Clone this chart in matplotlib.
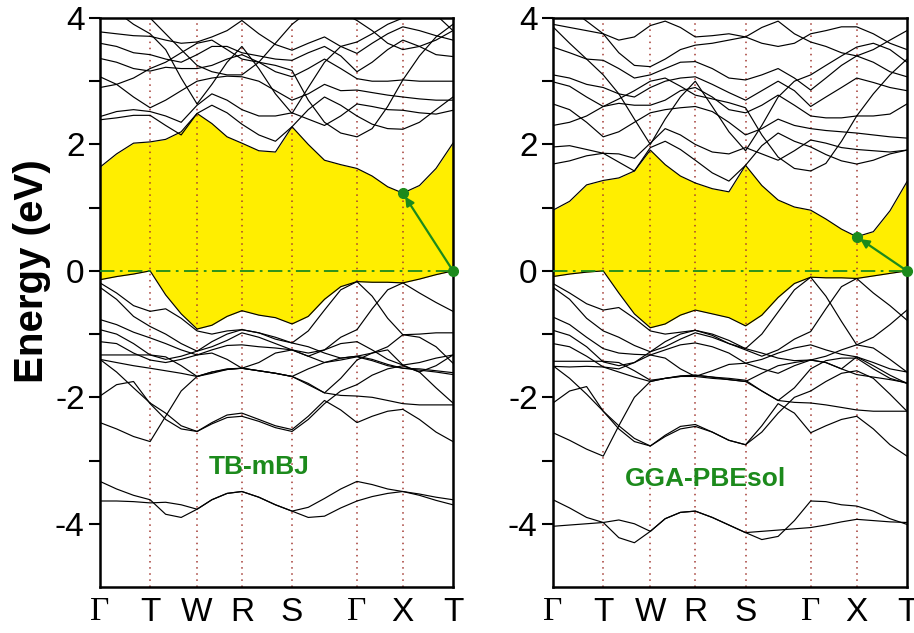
import matplotlib
matplotlib.use("Agg")
import matplotlib.pyplot as plt

# k-path (fraction of path length) and high-symmetry labels
k_path = [0.000, 0.047, 0.095, 0.142, 0.186, 0.230, 0.275, 0.317, 0.360, 0.402, 0.450, 0.497,
          0.544, 0.590, 0.636, 0.682, 0.728, 0.771, 0.815, 0.858, 0.905, 0.952, 1.000]
hs_pos = [0.000, 0.142, 0.275, 0.402, 0.544, 0.728, 0.858, 1.000]
hs_labels = ["Γ", "T", "W", "R", "S", "Γ", "X", "T"]

# TB-mBJ bands (eV)
mbj_cond = [
    [1.64, 1.85, 2.02, 2.04, 2.08, 2.20, 2.49, 2.33, 2.12, 2.02, 1.90, 1.88, 2.28, 2.00, 1.75, 1.68, 1.62, 1.50, 1.33, 1.23, 1.35, 1.62, 2.02],
    [2.39, 2.42, 2.46, 2.46, 2.30, 2.15, 2.49, 2.62, 2.50, 2.32, 2.15, 2.05, 2.28, 2.55, 2.75, 2.62, 2.45, 2.32, 2.25, 2.24, 2.35, 2.55, 2.75],
    [2.44, 2.52, 2.55, 2.52, 2.45, 2.35, 2.62, 2.80, 2.70, 2.55, 2.45, 2.45, 2.50, 2.40, 2.30, 2.45, 2.64, 2.60, 2.55, 2.54, 2.50, 2.48, 2.54],
    [3.07, 2.95, 2.75, 2.58, 2.70, 2.85, 3.00, 3.05, 3.08, 3.07, 3.00, 2.85, 2.70, 2.80, 2.95, 2.85, 2.86, 2.82, 2.78, 2.75, 2.72, 2.70, 2.70],
    [3.36, 3.30, 3.20, 3.16, 3.22, 3.20, 3.20, 3.25, 3.35, 3.42, 3.30, 3.15, 3.07, 3.20, 3.35, 3.20, 3.04, 3.00, 3.00, 3.02, 3.00, 3.00, 3.00],
    [3.60, 3.55, 3.45, 3.42, 3.35, 3.30, 3.42, 3.55, 3.55, 3.45, 3.40, 3.35, 3.33, 3.45, 3.55, 3.40, 3.15, 3.30, 3.50, 3.65, 3.55, 3.42, 3.39],
    [3.78, 3.75, 3.72, 3.71, 3.65, 3.60, 3.62, 3.70, 3.80, 3.96, 3.75, 3.58, 3.49, 3.60, 3.70, 3.55, 3.44, 3.60, 3.75, 3.86, 3.80, 3.72, 3.65],
    [4.30, 4.10, 3.90, 3.75, 3.50, 3.05, 2.64, 2.95, 3.30, 3.55, 3.20, 2.80, 2.49, 2.90, 3.30, 3.55, 3.62, 3.75, 3.90, 4.00, 4.10, 4.05, 3.80],
    [4.50, 4.40, 4.20, 4.00, 3.75, 3.50, 3.25, 3.15, 3.10, 3.10, 3.30, 3.60, 3.90, 4.10, 4.30, 4.10, 3.96, 3.80, 3.60, 3.50, 3.55, 3.65, 3.80],
    [2.90, 2.95, 3.05, 3.20, 3.30, 3.45, 3.60, 3.65, 3.50, 3.35, 3.30, 3.25, 3.17, 2.70, 2.35, 2.18, 2.12, 2.25, 2.60, 3.02, 3.40, 3.70, 3.90],
]
mbj_val = [
    [-0.14, -0.09, -0.05, 0.00, -0.38, -0.68, -0.92, -0.86, -0.72, -0.63, -0.70, -0.74, -0.84, -0.72, -0.45, -0.25, -0.17, -0.18, -0.18, -0.19, -0.13, -0.06, 0.00],
    [-0.19, -0.35, -0.55, -0.64, -0.60, -0.75, -0.95, -1.00, -0.95, -0.93, -0.98, -1.05, -1.14, -0.95, -0.62, -0.30, -0.17, -0.40, -0.75, -1.01, -1.00, -0.98, -0.98],
    [-0.26, -0.45, -0.72, -0.88, -1.00, -1.15, -1.27, -1.20, -1.10, -0.98, -1.05, -1.15, -1.25, -1.35, -1.25, -1.05, -0.93, -0.60, -0.30, -0.19, -0.35, -0.50, -0.64],
    [-0.77, -0.85, -0.97, -1.06, -1.15, -1.25, -1.33, -1.25, -1.18, -1.17, -1.20, -1.22, -1.25, -1.30, -1.25, -1.15, -1.12, -1.25, -1.40, -1.49, -1.45, -1.38, -1.33],
    [-0.93, -1.00, -1.15, -1.33, -1.40, -1.35, -1.27, -1.12, -1.00, -0.93, -0.98, -1.08, -1.14, -1.20, -1.30, -1.38, -1.35, -1.30, -1.20, -1.01, -1.05, -1.20, -1.46],
    [-1.12, -1.15, -1.30, -1.41, -1.45, -1.40, -1.33, -1.30, -1.40, -1.54, -1.45, -1.30, -1.25, -1.35, -1.45, -1.41, -1.36, -1.42, -1.50, -1.54, -1.55, -1.58, -1.61],
    [-1.33, -1.33, -1.33, -1.33, -1.36, -1.50, -1.67, -1.60, -1.55, -1.54, -1.58, -1.62, -1.67, -1.80, -1.93, -1.70, -1.41, -1.30, -1.25, -1.49, -1.60, -1.50, -1.33],
    [-1.40, -1.45, -1.50, -1.54, -1.58, -1.62, -1.67, -1.62, -1.56, -1.54, -1.58, -1.62, -1.67, -1.55, -1.45, -1.38, -1.35, -1.40, -1.48, -1.54, -1.57, -1.60, -1.64],
    [-1.98, -1.80, -1.75, -2.10, -2.35, -2.50, -2.54, -2.40, -2.28, -2.25, -2.35, -2.45, -2.51, -2.30, -2.05, -2.20, -2.40, -2.30, -2.22, -2.19, -2.35, -2.55, -2.70],
    [-2.40, -2.50, -2.62, -2.70, -2.30, -1.90, -1.67, -1.60, -1.56, -1.54, -1.58, -1.62, -1.67, -1.78, -1.93, -1.97, -1.98, -2.00, -2.05, -2.10, -2.12, -2.12, -2.12],
    [-1.40, -1.60, -1.85, -2.09, -2.25, -2.45, -2.54, -2.42, -2.32, -2.30, -2.38, -2.48, -2.54, -2.35, -2.10, -1.90, -1.80, -1.65, -1.55, -1.50, -1.60, -1.85, -2.09],
    [-3.33, -3.45, -3.55, -3.62, -3.85, -3.90, -3.77, -3.62, -3.52, -3.49, -3.58, -3.70, -3.80, -3.90, -3.88, -3.75, -3.64, -3.57, -3.52, -3.49, -3.55, -3.63, -3.70],
    [-3.64, -3.64, -3.65, -3.67, -3.66, -3.70, -3.77, -3.62, -3.52, -3.49, -3.58, -3.70, -3.80, -3.74, -3.60, -3.45, -3.33, -3.38, -3.45, -3.49, -3.53, -3.58, -3.62],
]

# GGA-PBEsol bands (eV)
sol_cond = [
    [0.96, 1.10, 1.36, 1.43, 1.47, 1.58, 1.91, 1.68, 1.50, 1.39, 1.30, 1.25, 1.67, 1.35, 1.12, 1.01, 0.96, 0.82, 0.66, 0.54, 0.62, 0.95, 1.41],
    [1.69, 1.74, 1.82, 1.86, 1.72, 1.58, 1.95, 2.05, 1.92, 1.75, 1.55, 1.42, 1.67, 1.98, 2.18, 2.05, 1.96, 1.84, 1.74, 1.69, 1.75, 1.85, 1.91],
    [1.96, 1.98, 1.92, 1.86, 1.85, 1.78, 2.02, 2.25, 2.15, 2.00, 1.88, 1.85, 1.95, 1.85, 1.75, 1.90, 2.07, 2.02, 1.95, 1.92, 1.90, 1.88, 1.91],
    [2.64, 2.55, 2.35, 2.12, 2.20, 2.35, 2.50, 2.55, 2.58, 2.60, 2.52, 2.35, 2.15, 2.25, 2.40, 2.30, 2.25, 2.22, 2.20, 2.18, 2.15, 2.12, 2.10],
    [2.99, 2.92, 2.75, 2.60, 2.65, 2.62, 2.62, 2.70, 2.85, 2.90, 2.75, 2.55, 2.50, 2.62, 2.78, 2.62, 2.45, 2.42, 2.42, 2.45, 2.45, 2.48, 2.64],
    [3.10, 3.05, 2.95, 2.90, 2.80, 2.75, 2.90, 3.00, 3.05, 3.07, 2.95, 2.82, 2.70, 2.85, 3.00, 2.85, 2.60, 2.75, 2.90, 3.05, 2.98, 2.90, 2.85],
    [3.54, 3.45, 3.35, 3.33, 3.20, 3.05, 3.10, 3.20, 3.30, 3.31, 3.20, 3.05, 3.02, 3.10, 3.20, 3.05, 2.86, 3.05, 3.25, 3.40, 3.30, 3.15, 3.07],
    [3.86, 3.60, 3.35, 3.10, 2.80, 2.40, 2.00, 2.40, 2.75, 3.00, 2.60, 2.20, 1.90, 2.30, 2.75, 3.00, 3.10, 3.25, 3.40, 3.54, 3.60, 3.50, 3.30],
    [4.30, 4.15, 3.95, 3.75, 3.45, 3.25, 3.23, 3.35, 3.50, 3.57, 3.60, 3.65, 3.70, 3.85, 3.95, 3.75, 3.62, 3.55, 3.45, 3.40, 3.50, 3.65, 3.80],
    [2.30, 2.35, 2.45, 2.60, 2.72, 2.85, 3.00, 3.05, 2.92, 2.78, 2.72, 2.66, 2.58, 2.15, 1.80, 1.62, 1.58, 1.70, 2.05, 2.45, 2.80, 3.10, 3.35],
    [3.90, 3.85, 3.80, 3.75, 3.65, 3.70, 3.88, 3.95, 3.85, 3.70, 3.72, 3.75, 3.70, 3.60, 3.55, 3.60, 3.75, 3.80, 3.86, 3.86, 3.75, 3.60, 3.50],
]
sol_val = [
    [-0.09, -0.05, -0.02, 0.00, -0.35, -0.68, -0.90, -0.84, -0.70, -0.62, -0.68, -0.74, -0.87, -0.70, -0.42, -0.20, -0.10, -0.11, -0.11, -0.12, -0.08, -0.04, 0.00],
    [-0.20, -0.35, -0.52, -0.62, -0.58, -0.75, -0.95, -1.00, -0.97, -0.94, -1.00, -1.10, -1.23, -1.00, -0.65, -0.30, -0.10, -0.40, -0.80, -1.17, -1.05, -0.85, -0.62],
    [-0.26, -0.45, -0.75, -0.95, -1.05, -1.18, -1.28, -1.20, -1.08, -0.98, -1.05, -1.15, -1.25, -1.35, -1.25, -1.08, -0.96, -0.60, -0.25, -0.12, -0.35, -0.55, -0.78],
    [-0.73, -0.85, -1.05, -1.23, -1.30, -1.32, -1.33, -1.25, -1.17, -1.14, -1.20, -1.30, -1.46, -1.40, -1.30, -1.22, -1.17, -1.25, -1.32, -1.36, -1.45, -1.55, -1.60],
    [-0.94, -1.02, -1.20, -1.44, -1.50, -1.45, -1.28, -1.12, -1.00, -0.94, -1.02, -1.15, -1.23, -1.30, -1.38, -1.42, -1.41, -1.35, -1.25, -1.17, -1.22, -1.40, -1.60],
    [-1.15, -1.20, -1.35, -1.52, -1.55, -1.45, -1.33, -1.38, -1.55, -1.67, -1.58, -1.48, -1.46, -1.55, -1.62, -1.50, -1.41, -1.45, -1.55, -1.36, -1.50, -1.65, -1.78],
    [-1.43, -1.43, -1.43, -1.43, -1.45, -1.58, -1.73, -1.70, -1.66, -1.65, -1.68, -1.70, -1.73, -1.90, -2.05, -1.85, -1.55, -1.42, -1.38, -1.38, -1.55, -1.70, -1.78],
    [-1.51, -1.52, -1.51, -1.52, -1.60, -1.68, -1.75, -1.70, -1.67, -1.65, -1.68, -1.72, -1.75, -1.62, -1.50, -1.45, -1.41, -1.45, -1.55, -1.64, -1.68, -1.72, -1.77],
    [-2.09, -1.90, -1.83, -2.22, -2.50, -2.70, -2.77, -2.60, -2.46, -2.43, -2.55, -2.68, -2.75, -2.45, -2.10, -2.25, -2.56, -2.45, -2.35, -2.30, -2.50, -2.75, -2.93],
    [-2.56, -2.68, -2.82, -2.93, -2.45, -2.00, -1.75, -1.70, -1.67, -1.67, -1.70, -1.72, -1.75, -1.90, -2.05, -2.08, -2.09, -2.12, -2.16, -2.20, -2.22, -2.22, -2.22],
    [-1.50, -1.70, -1.95, -2.22, -2.45, -2.65, -2.77, -2.62, -2.50, -2.46, -2.55, -2.68, -2.75, -2.55, -2.25, -2.00, -1.90, -1.75, -1.62, -1.58, -1.70, -1.95, -2.22],
    [-3.62, -3.75, -3.90, -3.98, -4.22, -4.30, -4.12, -3.92, -3.82, -3.80, -3.90, -4.02, -4.14, -4.25, -4.20, -3.95, -3.64, -3.65, -3.70, -3.72, -3.80, -3.92, -4.01],
    [-4.04, -4.02, -4.00, -3.98, -3.94, -4.00, -4.12, -3.92, -3.82, -3.80, -3.90, -4.02, -4.14, -4.12, -4.10, -4.08, -4.06, -4.02, -3.97, -3.93, -3.95, -3.97, -3.98],
]

panels = [("TB-mBJ", mbj_cond, mbj_val, (0.45, -3.10)),
          ("GGA-PBEsol", sol_cond, sol_val, (0.43, -3.29))]

green = "#1c8a1c"
yellow = "#FFEE00"

fig = plt.figure(figsize=(9.14, 6.33), dpi=100)
axes = [fig.add_axes([0.1094, 0.0727, 0.3862, 0.8989]),
        fig.add_axes([0.6050, 0.0727, 0.3873, 0.8989])]

for ax, (name, cond, val, lab_pos) in zip(axes, panels):
    # band gap region
    ax.fill_between(k_path, val[0], cond[0], color=yellow, lw=0, zorder=1)
    for band in cond + val:
        ax.plot(k_path, band, color="black", lw=0.85, zorder=3)
    for x in hs_pos[1:-1]:
        ax.axvline(x, color="#a33a33", lw=1.1, ls=(0, (1, 3)), zorder=2)
    ax.axhline(0, color=green, lw=1.3, ls=(0, (8, 3, 1.5, 3)), zorder=4)

    # indirect gap arrow X -> T
    ix = k_path.index(0.858)
    ex = cond[0][ix]
    ax.annotate("", xy=(0.858, ex), xytext=(1.0, 0.0),
                arrowprops=dict(arrowstyle="-|>", color=green, lw=1.6,
                                mutation_scale=13, shrinkA=0, shrinkB=3),
                zorder=6, annotation_clip=False)
    ax.plot([0.858, 1.0], [ex, 0.0], "o", color=green, ms=7, zorder=7, clip_on=False)

    ax.text(lab_pos[0], lab_pos[1], name, color=green, fontsize=19,
            fontweight="bold", family="Liberation Sans", ha="center", va="center")

    ax.set_xlim(0, 1)
    ax.set_ylim(-5, 4)
    ax.set_yticks([-4, -2, 0, 2, 4])
    ax.set_yticks([-3, -1, 1, 3], minor=True)
    ax.set_yticklabels(["-4", "-2", "0", "2", "4"], fontsize=24, family="Liberation Sans")
    ax.tick_params(axis="y", which="both", direction="out", length=8, width=1.5, pad=3)
    ax.set_xticks(hs_pos)
    ax.set_xticklabels(hs_labels, fontsize=24, family="Liberation Sans")
    for t in ax.get_xticklabels():
        if t.get_text() == "Γ":
            t.set_family("Liberation Serif")
    ax.tick_params(axis="x", length=0, pad=7)
    for s in ax.spines.values():
        s.set_linewidth(1.8)

axes[0].set_ylabel("Energy (eV)", fontsize=29, fontweight="bold",
                   family="Liberation Sans")
axes[0].yaxis.set_label_coords(-0.14, 5 / 9)

fig.savefig("out.png", dpi=100)
